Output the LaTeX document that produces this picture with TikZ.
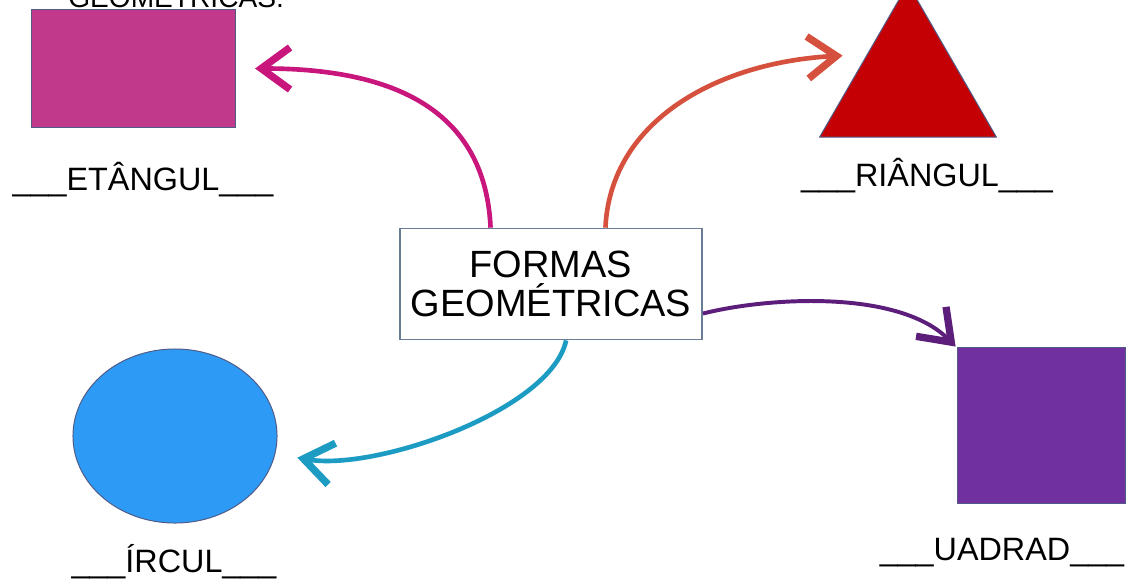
\documentclass[tikz,border=0pt]{standalone}
\usepackage{fontspec}
\setmainfont{Liberation Sans}
\usepackage{tikz}
\usetikzlibrary{arrows.meta,shapes.geometric}
\usepackage{xcolor}
\definecolor{fgmagenta}{RGB}{192,57,138}
\definecolor{fgred}{RGB}{196,0,4}
\definecolor{fgblue}{RGB}{45,155,245}
\definecolor{fgpurple}{RGB}{112,48,160}
\definecolor{fgedge}{RGB}{80,92,135}
\definecolor{fgboxedge}{RGB}{105,125,150}
\definecolor{fgmagarrow}{RGB}{200,22,125}
\definecolor{fgorarrow}{RGB}{214,80,62}
\definecolor{fgpurarrow}{RGB}{92,30,122}
\definecolor{fgtealarrow}{RGB}{28,155,195}
\tikzstyle{shapeedge} = [draw=fgedge, line width=0.7pt, inner sep=0pt, outer sep=0pt]
\tikzstyle{centerbox} = [draw=fgboxedge, line width=1.2pt, fill=white, align=center, minimum width=7.55cm, minimum height=2.775cm, inner sep=0pt, font=\fontsize{27}{28}\selectfont]
\tikzstyle{answer} = [anchor=base, inner sep=0pt, font=\fontsize{23}{27}\selectfont]
\tikzstyle{linkarrow} = [line width=3.3pt, -{Straight Barb[length=0.72cm,width=1.05cm,line width=5.2pt]}]

\begin{document}
\begin{tikzpicture}[x=0.025cm, y=-0.025cm]
\clip (0,0) rectangle (1128,587);
\fill[white] (0,0) rectangle (1128,587);
% top line, cut by the page edge
\node[anchor=base west, inner sep=0pt, font=\fontsize{20}{20}\selectfont] (toptxt) at (68,7) {GEOMÉTRICAS.};
% the four shapes
\node[shapeedge, fill=fgmagenta, minimum width=5.075cm, minimum height=2.925cm] (rect) at (133.5,68.5) {};
\node[shapeedge, fill=fgred, regular polygon, regular polygon sides=3, minimum size=5.1cm] (tri) at (908,86) {};
\node[shapeedge, fill=fgblue, ellipse, minimum width=5.1cm, minimum height=4.35cm] (circ) at (175,436) {};
\node[shapeedge, fill=fgpurple, minimum width=4.2cm, minimum height=3.875cm] (sq) at (1041,425.5) {};
% words to complete
\node[answer] (rectlbl) at (143,190) {\_\_\_ETÂNGUL\_\_\_};
\node[answer] (trilbl) at (927,186) {\_\_\_RIÂNGUL\_\_\_};
\node[answer] (circlbl) at (174,572) {\_\_\_ÍRCUL\_\_\_};
\node[answer] (sqlbl) at (1002,560) {\_\_\_UADRAD\_\_\_};
% center
\node[centerbox] (ctr) at (551,284) {FORMAS\\GEOMÉTRICAS};
% arrows
\draw[linkarrow, fgmagarrow, shorten >=0.5cm] (ctr.137) .. controls +(-5,-110) and +(170,0) .. (rect.east);
\draw[linkarrow, fgorarrow, shorten >=0.62cm] (ctr.46) .. controls +(5,-107) and +(-150,8) .. (tri.142);
\draw[linkarrow, fgpurarrow, line width=2.8pt, shorten >=0.05cm] (ctr.-11) .. controls +(68,-17) and +(-57,-58) .. (sq.north west);
\draw[linkarrow, fgtealarrow, shorten >=0.57cm] (ctr.-75) .. controls +(-15,70) and +(100,18) .. (circ.-10);
\end{tikzpicture}
\end{document}
